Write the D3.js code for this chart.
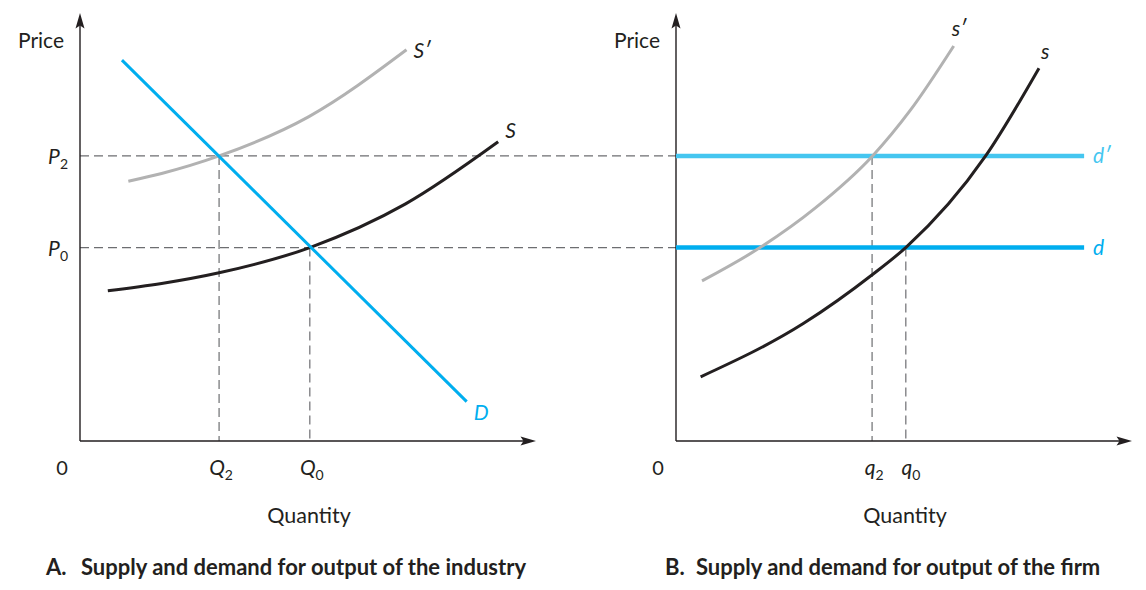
<!DOCTYPE html>
<html>
<head>
<meta charset="utf-8">
<script src="https://cdn.jsdelivr.net/npm/d3@7"></script>
<style>
  body { margin: 0; background: #fff; }
  svg text { font-family: Lato, "Open Sans", sans-serif; fill: #231f20; }
</style>
</head>
<body>
<div id="chart"></div>
<script>
// values, in arbitrary units (0..100 on each axis)
var priceLevels = [66.6, 45.2];
var priceLabels = ['P2', 'P0'];

var industryQuantity = [30.5, 50.4];
var industryQuantityLabels = ['Q2', 'Q0'];

var firmQuantity = [43.0, 50.4];
var firmQuantityLabels = ['q2', 'q0'];

// panel A curves: [quantity, price]
var industryDemand = [[9.2, 89.0], [84.8, 9.2]];
var industrySupply = [[6.1, 35.1], [17.9, 36.8], [30.5, 39.3], [50.4, 45.2], [71.4, 55.4], [91.7, 69.9]];
var industrySupplyShifted = [[10.6, 60.7], [17.9, 62.5], [30.5, 66.6], [50.2, 75.8], [71.6, 91.4]];

// panel B curves
var firmDemandEnd = 89.5;
var firmSupply = [[5.4, 15.0], [28.0, 27.5], [43.1, 38.9], [50.5, 45.3], [67.9, 66.6], [79.6, 87.1]];
var firmSupplyShifted = [[5.7, 37.4], [18.6, 45.3], [30.5, 54.4], [43.1, 66.6], [51.4, 77.3], [60.9, 92.3]];

var colors = {
  ink: '#231f20',
  blue: '#00aeef',
  lightBlue: '#45c6f0',
  gray: '#b2b2b2',
  dash: '#6d6e71'
};

var W = 1146, H = 590;
var svg = d3.select('#chart').append('svg')
  .attr('width', W)
  .attr('height', H);
svg.append('rect').attr('width', W).attr('height', H).attr('fill', '#fff');

var y = d3.scaleLinear().domain([0, 100]).range([441, 13]);
var xA = d3.scaleLinear().domain([0, 100]).range([80, 536]);
var xB = d3.scaleLinear().domain([0, 100]).range([676, 1132]);

function curve(x) {
  return d3.line()
    .x(function (d) { return x(d[0]); })
    .y(function (d) { return y(d[1]); })
    .curve(d3.curveMonotoneX);
}

function dashed(x1, y1, x2, y2) {
  svg.append('line')
    .attr('x1', x1).attr('y1', y1)
    .attr('x2', x2).attr('y2', y2)
    .attr('stroke', colors.dash)
    .attr('stroke-width', 1.2)
    .attr('stroke-dasharray', '9,5');
}

// label with subscript, e.g. 'P2' -> P with 2 below
function subLabel(x, yy, str, anchor, color) {
  var t = svg.append('text')
    .attr('x', x).attr('y', yy)
    .attr('text-anchor', anchor || 'middle')
    .style('font-size', '21px')
    .style('fill', color || colors.ink);
  t.append('tspan').style('font-style', 'italic').text(str.charAt(0));
  if (str.length > 1) {
    t.append('tspan')
      .attr('dy', 5)
      .style('font-size', '14px')
      .text(str.slice(1));
  }
  return t;
}

function curveLabel(x, yy, str, color) {
  return svg.append('text').attr('x', x).attr('y', yy)
    .style('font-size', '21px').style('font-style', 'italic')
    .style('fill', color || colors.ink)
    .text(str);
}

function axes(x) {
  var x0 = x(0), x1 = x(100), y0 = y(0), y1 = y(100);
  svg.append('path')
    .attr('d', 'M' + x0 + ',' + y0 + 'V' + (y1 + 8) + 'M' + x0 + ',' + y0 + 'H' + (x1 - 8))
    .attr('fill', 'none')
    .attr('stroke', colors.ink)
    .attr('stroke-width', 1.4);
  // arrow heads
  svg.append('path')
    .attr('d', 'M' + x0 + ',' + y1 + 'l-4.5,15.5l4.5,-3l4.5,3z')
    .attr('fill', colors.ink);
  svg.append('path')
    .attr('d', 'M' + x1 + ',' + y0 + 'l-15.5,-4.5l3,4.5l-3,4.5z')
    .attr('fill', colors.ink);
  svg.append('text')
    .attr('x', x0 - 62).attr('y', 48)
    .style('font-size', '21px')
    .text('Price');
  svg.append('text')
    .attr('x', x0 - 18).attr('y', 475)
    .attr('text-anchor', 'middle')
    .style('font-size', '20px')
    .text('0');
  svg.append('text')
    .attr('x', x(50) + 1).attr('y', 523)
    .attr('text-anchor', 'middle')
    .style('font-size', '21.5px')
    .text('Quantity');
}

// ---- guide lines (dashed)
priceLevels.forEach(function (p) {
  dashed(xA(0), y(p), xB(0), y(p));
});
industryQuantity.forEach(function (q, i) {
  dashed(xA(q), y(priceLevels[i]), xA(q), y(0));
});
firmQuantity.forEach(function (q, i) {
  dashed(xB(q), y(priceLevels[i]), xB(q), y(0));
});

axes(xA);
axes(xB);

// ---- panel A
svg.append('path')
  .attr('d', curve(xA)(industrySupplyShifted))
  .attr('fill', 'none').attr('stroke', colors.gray).attr('stroke-width', 3);
svg.append('path')
  .attr('d', curve(xA)(industrySupply))
  .attr('fill', 'none').attr('stroke', colors.ink).attr('stroke-width', 3);
svg.append('path')
  .attr('d', d3.line().x(function (d) { return xA(d[0]); }).y(function (d) { return y(d[1]); })(industryDemand))
  .attr('fill', 'none').attr('stroke', colors.blue).attr('stroke-width', 3);

var sEnd = industrySupply[industrySupply.length - 1];
curveLabel(xA(sEnd[0]) + 7, y(sEnd[1]) - 4, 'S');
var spEnd = industrySupplyShifted[industrySupplyShifted.length - 1];
curveLabel(xA(spEnd[0]) + 7, y(spEnd[1]) + 8, 'S\u2032');
var dEnd = industryDemand[1];
curveLabel(xA(dEnd[0]) + 7, y(dEnd[1]) + 18, 'D', colors.blue);

priceLabels.forEach(function (lbl, i) {
  subLabel(xA(0) - 12, y(priceLevels[i]) + 8, lbl, 'end');
});
industryQuantityLabels.forEach(function (lbl, i) {
  subLabel(xA(industryQuantity[i]) + 2, 475, lbl, 'middle');
});

// ---- panel B
svg.append('line')
  .attr('x1', xB(0)).attr('x2', xB(firmDemandEnd))
  .attr('y1', y(priceLevels[0])).attr('y2', y(priceLevels[0]))
  .attr('stroke', colors.lightBlue).attr('stroke-width', 4.5);
svg.append('line')
  .attr('x1', xB(0)).attr('x2', xB(firmDemandEnd))
  .attr('y1', y(priceLevels[1])).attr('y2', y(priceLevels[1]))
  .attr('stroke', colors.blue).attr('stroke-width', 4.5);
svg.append('path')
  .attr('d', curve(xB)(firmSupplyShifted))
  .attr('fill', 'none').attr('stroke', colors.gray).attr('stroke-width', 3);
svg.append('path')
  .attr('d', curve(xB)(firmSupply))
  .attr('fill', 'none').attr('stroke', colors.ink).attr('stroke-width', 3);

curveLabel(xB(firmDemandEnd) + 9, y(priceLevels[0]) + 7, 'd\u2032', colors.lightBlue);
curveLabel(xB(firmDemandEnd) + 9, y(priceLevels[1]) + 7, 'd', colors.blue);
var fsEnd = firmSupply[firmSupply.length - 1];
curveLabel(xB(fsEnd[0]) + 2, y(fsEnd[1]) - 9, 's');
var fspEnd = firmSupplyShifted[firmSupplyShifted.length - 1];
curveLabel(xB(fspEnd[0]) - 2, y(fspEnd[1]) - 10, 's\u2032');

firmQuantityLabels.forEach(function (lbl, i) {
  subLabel(xB(firmQuantity[i]) + (i === 0 ? 2 : 5), 475, lbl, 'middle');
});

// ---- panel titles
function title(x, gap, letter, txt) {
  var t = svg.append('text').attr('y', 575)
    .style('font-size', '22px').style('font-weight', 'bold');
  t.append('tspan').attr('x', x).text(letter);
  t.append('tspan').attr('x', x + gap).text(txt);
}
title(46, 35, 'A.', 'Supply and demand for output of the industry');
title(665, 31, 'B.', 'Supply and demand for output of the firm');
</script>
</body>
</html>
